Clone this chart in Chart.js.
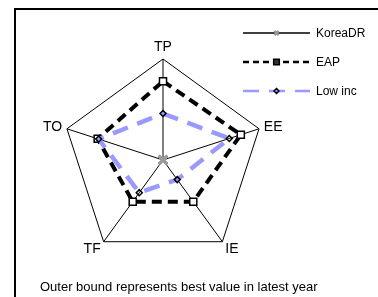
<!DOCTYPE html>
<html>
<head>
<meta charset="utf-8">
<script src="https://cdn.jsdelivr.net/npm/chart.js@4/dist/chart.umd.min.js"></script>
<style>
    html, body { margin: 0; padding: 0; background: #fff; overflow: hidden; }
    #wrap { position: relative; width: 378px; height: 297px; }
    #frame {
        position: absolute; left: 14px; top: 8px; width: 400px; height: 320px;
        border-left: 2px solid #000; border-top: 2px solid #000;
    }
    #chart { position: absolute; left: 0; top: 0; }
    #note {
        position: absolute; left: 40px; top: 279px;
        font: 13px "Liberation Sans", Arial, sans-serif; color: #000; white-space: nowrap;
    }
</style>
</head>
<body>
<div id="wrap">
    <div id="frame"></div>
    <canvas id="chart" width="378" height="297"></canvas>
    <div id="note">Outer bound represents best value in latest year</div>
</div>
<script>
// ================================
// Data
// ================================
const axes = ["TP", "EE", "IE", "TF", "TO"];
const seriesNames = ["KoreaDR", "EAP", "Low inc"];
const koreaValues = [0, 0, 0, 0, 0];
const eapValues = [0.78, 0.81, 0.51, 0.51, 0.68];
const lowIncValues = [0.46, 0.69, 0.24, 0.40, 0.67];

const FONT = '"Liberation Sans", Arial, sans-serif';
const BLUE = "#9999ff";

// ================================
// Plugins
// ================================
// axis labels around the outer pentagon
const axisLabels = {
    id: "axisLabels",
    afterDraw(chart) {
        const scale = chart.scales.r;
        const ctx = chart.ctx;
        ctx.save();
        ctx.font = "14px " + FONT;
        ctx.fillStyle = "#000";
        axes.forEach((label, i) => {
            const p = scale.getPointPosition(i, scale.drawingArea + 5);
            const dx = p.x - scale.xCenter;
            ctx.textAlign = dx > 5 ? "left" : dx < -5 ? "right" : "center";
            ctx.textBaseline = p.y < scale.yCenter - 80 ? "bottom" : "middle";
            ctx.fillText(label, p.x, p.y + (p.y > scale.yCenter ? 3 : 0));
        });
        ctx.restore();
    },
};

// line-sample legend at top right
const lineLegend = {
    id: "lineLegend",
    afterDraw(chart) {
        const ctx = chart.ctx;
        ctx.save();
        ctx.fillStyle = "#fff";
        ctx.fillRect(230, 16, 140, 91);
        const x0 = 243, x1 = 310, rowH = 29, top = 33;
        chart.data.datasets.forEach((ds, i) => {
            const y = top + i * rowH;
            ctx.strokeStyle = ds.borderColor;
            ctx.lineWidth = Math.min(ds.borderWidth, 2.5);
            ctx.setLineDash(ds.legendDash || []);
            ctx.beginPath();
            ctx.moveTo(x0, y);
            ctx.lineTo(x1, y);
            ctx.stroke();
            ctx.setLineDash([]);
            ctx.strokeStyle = ds.pointBorderColor;
            ctx.fillStyle = ds.legendPointFill || ds.pointBackgroundColor;
            ctx.lineWidth = ds.pointBorderWidth;
            Chart.helpers.drawPoint(ctx, {
                pointStyle: ds.pointStyle,
                radius: ds.legendPointRadius,
                borderWidth: ds.pointBorderWidth,
            }, (x0 + x1) / 2, y);
            ctx.fillStyle = "#000";
            ctx.font = "12px " + FONT;
            ctx.textAlign = "left";
            ctx.textBaseline = "middle";
            ctx.fillText(ds.label, x1 + 6, y + 1);
        });
        ctx.restore();
    },
};

const ctx = document.getElementById("chart").getContext("2d");
new Chart(ctx, {
    type: "radar",
    data: {
        labels: axes,
        datasets: [
            {
                label: seriesNames[0],
                data: koreaValues,
                borderColor: "#000",
                borderWidth: 1.5,
                pointStyle: "crossRot",
                pointRadius: 6,
                legendPointRadius: 3,
                pointBorderWidth: 2.5,
                pointBorderColor: "#999",
                pointBackgroundColor: "#999",
                fill: false,
                order: 0,
            },
            {
                label: seriesNames[1],
                data: eapValues,
                borderColor: "#000",
                borderWidth: 4,
                borderDash: [10, 6],
                legendDash: [6, 4],
                pointStyle: "rect",
                pointRadius: 5,
                legendPointRadius: 4,
                legendPointFill: "#333",
                pointBorderWidth: 1.5,
                pointBorderColor: "#000",
                pointBackgroundColor: "#fff",
                fill: false,
                order: 2,
            },
            {
                label: seriesNames[2],
                data: lowIncValues,
                borderColor: BLUE,
                borderWidth: 4.5,
                borderDash: [16, 10],
                legendDash: [16, 10],
                pointStyle: "rectRot",
                pointRadius: 3,
                legendPointRadius: 2.5,
                pointBorderWidth: 1.5,
                pointBorderColor: "#000",
                pointBackgroundColor: "rgba(255,255,255,0)",
                fill: false,
                order: 1,
            },
        ],
    },
    options: {
        responsive: false,
        animation: false,
        events: [],
        layout: { padding: { left: 62, right: 114, top: 59, bottom: 36 } },
        plugins: {
            legend: { display: false },
            tooltip: { enabled: false },
        },
        elements: { line: { tension: 0 } },
        scales: {
            r: {
                min: 0,
                max: 1,
                ticks: { display: false, stepSize: 1 },
                pointLabels: { display: false },
                grid: { color: "#000", lineWidth: 1 },
                angleLines: { color: "#000", lineWidth: 1 },
            },
        },
    },
    plugins: [axisLabels, lineLegend],
});
</script>
</body>
</html>
